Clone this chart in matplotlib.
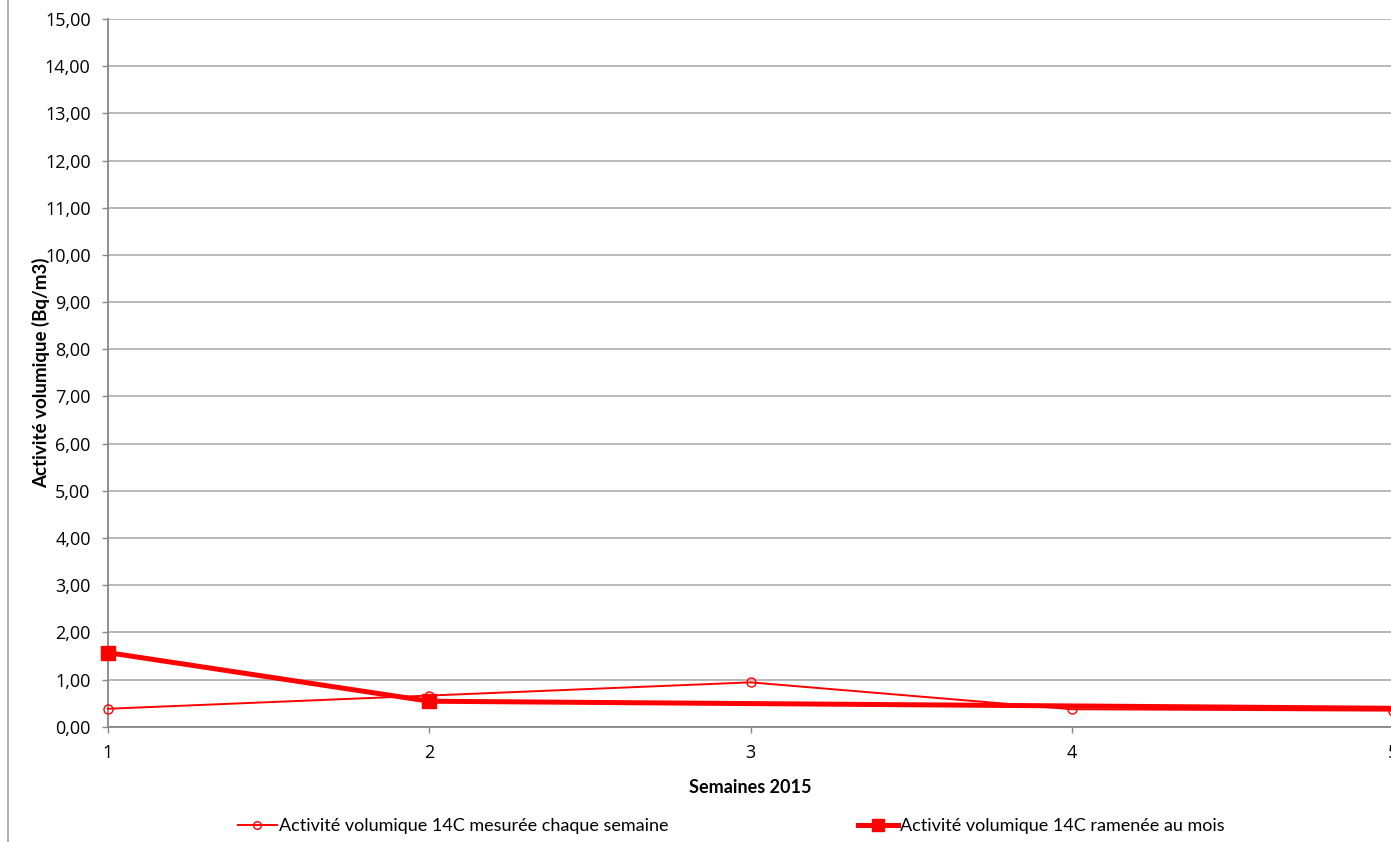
import numpy as np
import matplotlib
matplotlib.use("Agg")
import matplotlib.pyplot as plt
from matplotlib.lines import Line2D
from matplotlib.ticker import FuncFormatter

plt.rcParams['font.family'] = ['Lato', 'DejaVu Sans']

# data
semaines = [1, 2, 3, 4, 5]
mesure_semaine = [0.38, 0.66, 0.94, 0.37, 0.34]
ramenee_mois = [1.57, 0.54, np.nan, np.nan, 0.39]

lab_semaine = "Activité volumique 14C mesurée chaque semaine"
lab_mois = "Activité volumique 14C ramenée au mois"

fig = plt.figure(figsize=(13.91, 8.42), dpi=100)
ax = fig.add_axes([108 / 1391, 115.3 / 842, 1285 / 1391, 707.7 / 842])

x = np.array(semaines, dtype=float)
y2 = np.array(ramenee_mois, dtype=float)
ok = ~np.isnan(y2)

ax.plot(x, mesure_semaine, color='#FF0000', linewidth=1.4, marker='o',
        markersize=6.5, markerfacecolor='none', markeredgecolor='#FF0000',
        markeredgewidth=1.0, label=lab_semaine, clip_on=False, zorder=3)
# last point continues off the visible area, no marker drawn there
ax.plot(x[ok], y2[ok], color='#FF0000', linewidth=3.6, marker='s',
        markersize=10, markevery=[0, 1], label=lab_mois, clip_on=False, zorder=4)

ax.set_xlim(1, 5)
ax.set_ylim(0, 15)
ax.set_xticks(semaines)
ax.set_yticks(np.arange(0, 16, 1))
ax.yaxis.set_major_formatter(FuncFormatter(lambda v, p: f"{v:.2f}".replace('.', ',')))

ax.grid(axis='y', color='#A6A6A6', linewidth=1.1)
ax.set_axisbelow(True)
for s in ['top', 'right']:
    ax.spines[s].set_visible(False)
for s in ['left', 'bottom']:
    ax.spines[s].set_color('#868686')
    ax.spines[s].set_linewidth(1.3)
ax.tick_params(axis='both', direction='out', length=4.5, width=1, color='#868686',
               labelsize=13, labelcolor='black', labelfontfamily='Open Sans')
ax.tick_params(axis='y', pad=8)
ax.tick_params(axis='x', pad=8)

ax.set_xlabel('Semaines 2015', fontsize=13, fontweight='bold', labelpad=12)
ax.set_ylabel('Activité volumique (Bq/m3)', fontsize=13.5, fontweight='bold')
ax.yaxis.set_label_coords(-58 / 1285, 0.5)

fig.legend(loc='center', bbox_to_anchor=(731 / 1391, 1 - 826 / 842), ncol=2,
           frameon=False, fontsize=13, handlelength=2.2, columnspacing=10.5,
           handletextpad=0.1, markerscale=0.85)

# outer chart border on the left
fig.add_artist(Line2D([7.5 / 1391, 7.5 / 1391], [0, 1], color='#A0A0A0', linewidth=1.2))

fig.savefig('out.png', dpi=100)
